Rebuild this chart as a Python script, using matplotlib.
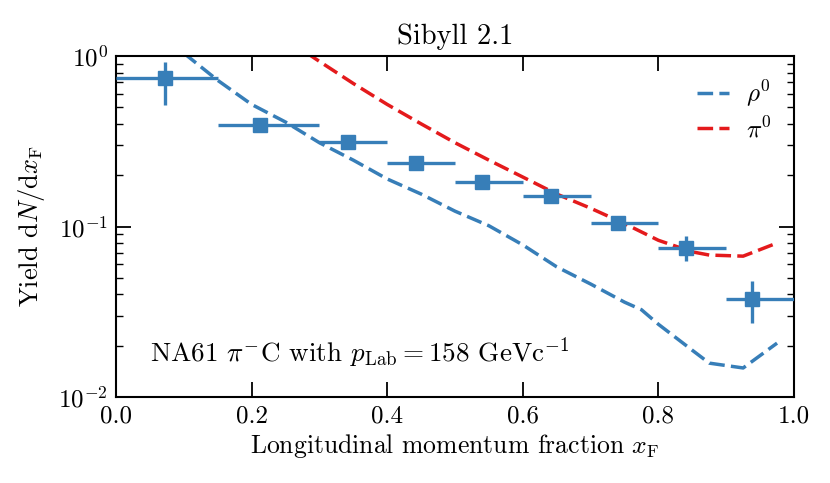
import numpy as np
import matplotlib
matplotlib.use("Agg")
import matplotlib.pyplot as plt

plt.rcParams['font.family'] = 'serif'
plt.rcParams['font.serif'] = ['cmr10']
plt.rcParams['mathtext.fontset'] = 'cm'
plt.rcParams['axes.formatter.use_mathtext'] = True
plt.rcParams['axes.unicode_minus'] = False

BLUE = '#377eb8'
RED = '#e41a1c'

# NA61 data
data_x = [0.072, 0.213, 0.342, 0.443, 0.540, 0.641, 0.741, 0.841, 0.938]
data_y = [0.743, 0.394, 0.313, 0.236, 0.182, 0.151, 0.105, 0.0748, 0.0376]
bin_lo = [0.0, 0.15, 0.3, 0.4, 0.5, 0.6, 0.7, 0.8, 0.9]
bin_hi = [0.15, 0.3, 0.4, 0.5, 0.6, 0.7, 0.8, 0.9, 1.0]
yerr_lo = [0.23, 0.02, 0.03, 0.01, 0.01, 0.01, 0.006, 0.012, 0.0104]
yerr_hi = [0.18, 0.02, 0.03, 0.01, 0.01, 0.01, 0.006, 0.013, 0.010]

# Sibyll 2.1 curves
rho_x = [0.10, 0.15, 0.20, 0.25, 0.30, 0.35, 0.40, 0.45, 0.50, 0.55, 0.60,
         0.65, 0.70, 0.75, 0.775, 0.80, 0.85, 0.875, 0.925, 0.975]
rho_y = [1.04, 0.72, 0.52, 0.41, 0.31, 0.245, 0.19, 0.155, 0.123, 0.101, 0.078,
         0.058, 0.046, 0.036, 0.0325, 0.0267, 0.0188, 0.0158, 0.0148, 0.0207]
pi_x = [0.28, 0.30, 0.35, 0.40, 0.45, 0.50, 0.55, 0.60, 0.65, 0.70, 0.75,
        0.80, 0.85, 0.875, 0.925, 0.975]
pi_y = [1.05, 0.93, 0.69, 0.52, 0.40, 0.31, 0.245, 0.195, 0.155, 0.128, 0.104,
        0.083, 0.071, 0.068, 0.067, 0.080]

fig = plt.figure(figsize=(8.3, 4.83), dpi=100)
ax = fig.add_axes([116/830, 1-397/483, (794-116)/830, (397-56)/483])

ax.plot(rho_x, rho_y, ls=(0, (4.5, 1.8)), color=BLUE, lw=2.5, label=r'$\rho^0$')
ax.plot(pi_x, pi_y, ls=(0, (4.5, 1.8)), color=RED, lw=2.5, label=r'$\pi^0$')

dx = np.array(data_x)
xerr = [dx - np.array(bin_lo), np.array(bin_hi) - dx]
ax.errorbar(data_x, data_y, xerr=xerr, yerr=[yerr_lo, yerr_hi], fmt='s',
            color=BLUE, ms=10.5, lw=2.4, capsize=0, zorder=3)

ax.set_yscale('log')
ax.set_xlim(0, 1)
ax.set_ylim(1e-2, 1)
ax.set_xticks([0.0, 0.2, 0.4, 0.6, 0.8, 1.0])
ax.set_xticklabels(['0.0', '0.2', '0.4', '0.6', '0.8', '1.0'])
ax.tick_params(which='both', direction='in', top=True, right=True, labelsize=18)
ax.tick_params(which='major', length=10.5, width=1.3, pad=6)
ax.tick_params(which='minor', length=5, width=1.0)
for s in ax.spines.values():
    s.set_linewidth(1.5)

ax.set_xlabel(r'Longitudinal momentum fraction $x_{\rm F}$', fontsize=18.5, labelpad=3)
ax.set_ylabel(r'Yield d$N/$d$x_{\rm F}$', fontsize=19, labelpad=8)
ax.set_title('Sibyll 2.1', fontsize=20.5, pad=9)

ax.text(0.05, 0.13, r'NA61 $\pi^{-}$C with $p_{\rm Lab} = 158$ GeVc$^{-1}$',
        transform=ax.transAxes, fontsize=19.5, va='center', ha='left')

ax.legend(loc='upper right', frameon=False, fontsize=18, handlelength=1.28,
          handletextpad=0.68, labelspacing=0.3, borderaxespad=0.5)

fig.savefig('out.png', dpi=100)
